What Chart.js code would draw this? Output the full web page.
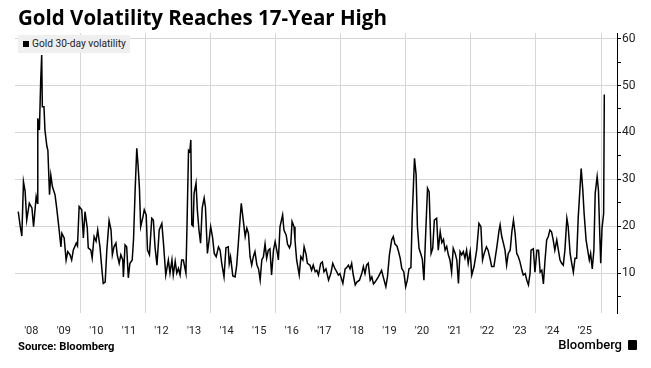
<!DOCTYPE html>
<html>
<head>
<meta charset="utf-8">
<script src="https://cdn.jsdelivr.net/npm/chart.js@4.4.1/dist/chart.umd.min.js"></script>
<style>
  body { margin: 0; background: #fff; }
  #wrap { position: relative; width: 651px; height: 368px; overflow: hidden; font-family: Roboto, "Noto Sans", sans-serif; }
  #chart { position: absolute; left: 0; top: 0; }
  .title { position: absolute; left: 18px; top: 3px; font-family: "Open Sans", sans-serif; font-size: 20.5px; font-weight: bold; color: #000; white-space: nowrap; }
  .legend { position: absolute; left: 18px; top: 35px; height: 18px; width: 112px; background: #efefef; font-size: 10.2px; color: #222; line-height: 18px; white-space: nowrap; }
  .legend i { display: inline-block; width: 6px; height: 6px; background: #000; margin: 0 3px 0 5px; vertical-align: 0px; }
  .source { position: absolute; left: 18px; top: 340px; font-size: 11.2px; font-weight: bold; color: #000; }
  .brand { position: absolute; right: 14px; top: 337px; font-size: 13px; font-weight: 500; color: #000; }
  .brand b { display: inline-block; width: 9px; height: 10px; background: #000; border-radius: 1px; margin-left: 6px; vertical-align: -1px; }
</style>
</head>
<body>
<div id="wrap">
  <canvas id="chart" width="651" height="368"></canvas>
  <div class="title">Gold Volatility Reaches 17-Year High</div>
  <div class="legend"><i></i>Gold 30-day volatility</div>
  <div class="source">Source: Bloomberg</div>
  <div class="brand">Bloomberg<b></b></div>
</div>
<script>
// decimal years
const t = [
  2008.10, 2008.16, 2008.21, 2008.26, 2008.31, 2008.36, 2008.44, 2008.52, 2008.57, 2008.65,
  2008.69, 2008.70, 2008.75, 2008.79, 2008.82, 2008.84, 2008.89, 2008.92, 2008.98, 2009.01,
  2009.06, 2009.10, 2009.15, 2009.23, 2009.28, 2009.35, 2009.41, 2009.44, 2009.51, 2009.57,
  2009.62, 2009.69, 2009.74, 2009.79, 2009.88, 2009.92, 2009.97, 2010.05, 2010.10, 2010.15,
  2010.22, 2010.25, 2010.33, 2010.37, 2010.43, 2010.49, 2010.54, 2010.61, 2010.67, 2010.71,
  2010.77, 2010.82, 2010.89, 2010.95, 2010.99, 2011.04, 2011.10, 2011.14, 2011.20, 2011.25,
  2011.31, 2011.33, 2011.38, 2011.43, 2011.48, 2011.53, 2011.60, 2011.64, 2011.69, 2011.74,
  2011.78, 2011.82, 2011.86, 2011.93, 2011.97, 2012.03, 2012.07, 2012.13, 2012.20, 2012.25,
  2012.30, 2012.36, 2012.43, 2012.51, 2012.56, 2012.63, 2012.71, 2012.76, 2012.82, 2012.86,
  2012.92, 2012.97, 2013.02, 2013.07, 2013.12, 2013.17, 2013.25, 2013.28, 2013.33, 2013.37,
  2013.40, 2013.43, 2013.47, 2013.50, 2013.56, 2013.60, 2013.65, 2013.70, 2013.75, 2013.81,
  2013.85, 2013.91, 2013.96, 2014.01, 2014.07, 2014.12, 2014.18, 2014.25, 2014.30, 2014.35,
  2014.42, 2014.48, 2014.55, 2014.58, 2014.62, 2014.69, 2014.76, 2014.81, 2014.86, 2014.91,
  2014.95, 2015.01, 2015.07, 2015.12, 2015.17, 2015.22, 2015.27, 2015.32, 2015.37, 2015.43,
  2015.48, 2015.53, 2015.58, 2015.63, 2015.68, 2015.73, 2015.78, 2015.83, 2015.88, 2015.94,
  2015.99, 2016.06, 2016.09, 2016.14, 2016.22, 2016.26, 2016.33, 2016.37, 2016.43, 2016.47,
  2016.51, 2016.57, 2016.60, 2016.65, 2016.73, 2016.78, 2016.84, 2016.88, 2016.94, 2016.98,
  2017.06, 2017.11, 2017.16, 2017.22, 2017.27, 2017.32, 2017.39, 2017.44, 2017.49, 2017.55,
  2017.63, 2017.70, 2017.76, 2017.83, 2017.88, 2017.93, 2017.98, 2018.07, 2018.14, 2018.19,
  2018.24, 2018.29, 2018.34, 2018.39, 2018.45, 2018.50, 2018.58, 2018.65, 2018.70, 2018.75,
  2018.80, 2018.85, 2018.91, 2018.96, 2019.01, 2019.06, 2019.16, 2019.21, 2019.26, 2019.31,
  2019.39, 2019.44, 2019.50, 2019.57, 2019.62, 2019.67, 2019.73, 2019.78, 2019.83, 2019.88,
  2019.94, 2020.00, 2020.05, 2020.10, 2020.16, 2020.20, 2020.27, 2020.32, 2020.36, 2020.41,
  2020.46, 2020.51, 2020.56, 2020.60, 2020.67, 2020.72, 2020.78, 2020.83, 2020.88, 2020.95,
  2021.00, 2021.06, 2021.11, 2021.16, 2021.21, 2021.26, 2021.31, 2021.36, 2021.41, 2021.46,
  2021.52, 2021.57, 2021.62, 2021.67, 2021.72, 2021.77, 2021.82, 2021.87, 2021.92, 2021.98,
  2022.03, 2022.10, 2022.18, 2022.25, 2022.31, 2022.36, 2022.41, 2022.48, 2022.53, 2022.60,
  2022.64, 2022.71, 2022.80, 2022.87, 2022.90, 2022.95, 2023.00, 2023.05, 2023.10, 2023.15,
  2023.21, 2023.26, 2023.31, 2023.36, 2023.41, 2023.46, 2023.51, 2023.57, 2023.61, 2023.67,
  2023.72, 2023.77, 2023.82, 2023.85, 2023.92, 2023.97, 2024.03, 2024.08, 2024.13, 2024.18,
  2024.23, 2024.28, 2024.33, 2024.38, 2024.43, 2024.48, 2024.53, 2024.58, 2024.64, 2024.69,
  2024.74, 2024.79, 2024.84, 2024.89, 2024.95, 2024.99, 2025.05, 2025.10, 2025.15, 2025.20,
  2025.25, 2025.30, 2025.35, 2025.39, 2025.44, 2025.48, 2025.54, 2025.59, 2025.64, 2025.68,
  2025.73, 2025.78, 2025.82, 2025.88, 2025.92, 2025.96, 2025.99, 2026.03, 2026.08, 2026.10
];

// gold 30-day volatility
const vol = [
  23.1, 20.0, 17.9, 29.5, 27.5, 21.3, 24.9, 23.9, 19.9, 26.3,
  24.9, 43.0, 40.5, 51.2, 56.5, 45.5, 45.5, 40.5, 37.0, 36.2,
  26.7, 30.9, 28.4, 26.7, 23.9, 19.6, 15.6, 18.5, 17.5, 12.8,
  14.6, 13.9, 12.8, 14.9, 16.4, 15.8, 24.2, 23.5, 17.5, 23.1,
  19.6, 15.4, 14.9, 13.2, 17.8, 16.8, 19.2, 15.6, 10.7, 7.8,
  8.1, 14.9, 21.2, 19.2, 13.9, 15.6, 16.4, 13.9, 12.1, 13.9,
  12.8, 9.2, 16.0, 15.6, 9.0, 12.1, 12.8, 17.1, 27.7, 36.6,
  33.0, 28.4, 19.9, 22.0, 23.5, 22.4, 14.9, 13.9, 21.7, 21.3,
  15.6, 11.7, 19.2, 20.6, 16.4, 9.6, 12.8, 10.0, 12.8, 9.6,
  12.5, 10.0, 11.0, 9.6, 12.8, 12.8, 10.0, 19.2, 36.2, 35.9,
  38.4, 20.3, 20.0, 27.0, 29.2, 23.5, 19.2, 16.4, 23.9, 26.0,
  24.0, 14.2, 17.0, 19.9, 17.5, 14.2, 13.5, 15.6, 14.9, 12.1,
  9.2, 15.4, 15.6, 12.0, 13.5, 9.4, 9.2, 11.7, 16.4, 21.3,
  24.9, 21.3, 17.8, 19.6, 18.5, 13.5, 11.7, 13.5, 14.6, 11.7,
  10.9, 8.5, 12.8, 13.5, 16.2, 13.2, 14.9, 15.2, 9.6, 14.9,
  16.7, 14.2, 12.8, 19.9, 22.4, 19.2, 18.1, 16.2, 15.4, 16.2,
  21.0, 19.9, 17.0, 12.8, 9.6, 13.5, 12.8, 15.6, 14.0, 12.1,
  11.7, 10.6, 11.7, 10.3, 10.6, 9.6, 12.1, 12.4, 10.3, 10.9,
  8.5, 9.9, 12.1, 10.9, 10.3, 9.6, 9.9, 7.8, 10.9, 11.2,
  11.7, 10.9, 12.1, 9.6, 7.5, 8.1, 8.5, 9.9, 11.4, 9.9,
  11.7, 12.1, 8.5, 9.2, 7.7, 8.1, 9.2, 9.9, 10.6, 9.2,
  7.1, 9.2, 13.9, 17.1, 17.8, 16.2, 15.8, 14.6, 13.2, 11.0,
  10.3, 7.1, 8.5, 10.9, 11.2, 22.0, 34.5, 31.0, 19.9, 15.3,
  14.2, 13.0, 8.5, 16.0, 28.1, 27.3, 14.2, 15.3, 21.3, 21.7,
  14.9, 18.8, 16.5, 17.2, 14.9, 15.7, 13.9, 12.8, 10.2, 15.3,
  14.2, 12.8, 7.8, 14.6, 13.9, 14.6, 13.2, 14.9, 12.1, 14.6,
  9.6, 11.4, 14.9, 20.6, 19.9, 12.8, 14.2, 15.6, 14.9, 12.8,
  11.4, 11.4, 15.6, 19.2, 20.3, 17.8, 16.4, 14.9, 11.7, 14.2,
  14.9, 18.8, 21.3, 18.5, 14.2, 13.5, 12.4, 10.6, 9.6, 9.9,
  8.5, 7.5, 10.0, 14.9, 15.2, 10.2, 14.9, 14.9, 10.2, 10.6,
  7.7, 12.8, 17.1, 17.8, 19.2, 18.8, 17.1, 14.9, 17.1, 14.9,
  12.8, 12.1, 11.7, 14.9, 21.7, 20.0, 14.2, 12.1, 10.2, 13.2,
  13.2, 22.0, 27.7, 32.3, 27.7, 22.7, 17.1, 14.9, 12.8, 14.2,
  10.9, 14.9, 27.0, 30.6, 27.7, 18.5, 12.1, 19.6, 22.7, 48.1
];

const yearTicks = [];
for (let y = 2008; y <= 2026; y++) yearTicks.push(y);
const labelTicks = [];
for (let y = 2008; y <= 2025; y++) labelTicks.push(y + 0.5);

const points = t.map((x, i) => ({ x: x, y: vol[i] }));

new Chart(document.getElementById("chart"), {
  type: "line",
  data: {
    datasets: [
      {
        label: "Gold 30-day volatility",
        data: points,
        borderColor: "#000",
        borderWidth: 1.5,
        pointRadius: 0,
        tension: 0,
      },
    ],
  },
  options: {
    responsive: false,
    animation: false,
    layout: { padding: { left: 15, top: 33, right: 0, bottom: 0 } },
    plugins: { legend: { display: false }, tooltip: { enabled: false } },
    scales: {
      x: {
        type: "linear",
        min: 2008.0,
        max: 2026.49,
        afterFit: (s) => { s.height = 55; },
        afterBuildTicks: (s) => {
          s.ticks = yearTicks.concat(labelTicks).sort((a, b) => a - b).map((v) => ({ value: v }));
        },
        border: { display: false },
        grid: {
          drawTicks: false,
          color: (c) => {
            const v = c.tick ? c.tick.value : 0;
            return Number.isInteger(v) && v % 2 === 0 && v >= 2010 ? "#d6d6d6" : "rgba(0,0,0,0)";
          },
          borderDash: [1, 2],
        },
        ticks: {
          autoSkip: false,
          maxRotation: 0,
          padding: 12,
          color: "#222",
          font: { family: "Roboto", size: 11 },
          callback: (v) => (Number.isInteger(v) ? "" : "'" + String(Math.floor(v)).slice(2)),
        },
      },
      y: {
        position: "right",
        min: 1.5,
        max: 61.2,
        afterFit: (s) => { s.width = 34; },
        afterBuildTicks: (s) => {
          const arr = [];
          for (let v = 5; v <= 60; v += 5) arr.push({ value: v });
          s.ticks = arr;
        },
        border: { display: true, color: "#000", width: 1 },
        grid: {
          color: (c) => (c.tick && c.tick.value % 10 === 0 ? "#d6d6d6" : "rgba(0,0,0,0)"),
          borderDash: [1, 2],
          tickColor: "#000",
          tickLength: 4,
          tickBorderDash: [],
        },
        ticks: {
          padding: 1,
          color: "#222",
          font: { family: "Roboto", size: 12 },
          callback: (v) => (v % 10 === 0 ? String(v) : ""),
        },
      },
    },
  },
});
</script>
</body>
</html>
